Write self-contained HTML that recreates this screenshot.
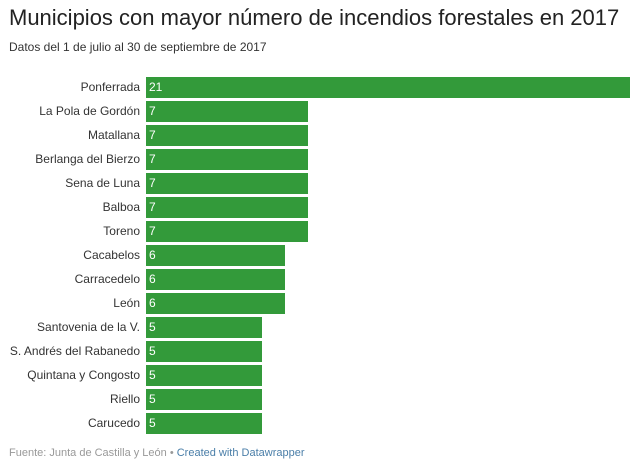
<!DOCTYPE html>
<html><head><meta charset="utf-8"><style>
body{margin:0;width:630px;height:466px;background:#fff;font-family:"Liberation Sans",Arial,sans-serif;color:#333;position:relative;overflow:hidden}
.t{position:absolute;left:9px;top:5px;font-size:22px;color:#222;white-space:nowrap}
.s{position:absolute;left:9px;top:40px;font-size:12px;color:#333;white-space:nowrap}
.r{position:absolute;left:0;height:21px}
.l{position:absolute;right:490px;width:200px;text-align:right;font-size:12px;line-height:21px;white-space:nowrap}
.b{position:absolute;left:146px;height:21px;background:#339a3a;color:#fff;font-size:12px;line-height:21px;padding-left:3px;box-sizing:border-box}
.f{position:absolute;left:9px;top:447px;font-size:11px;color:#999;white-space:nowrap}
.f a{color:#4a7ea8;text-decoration:none}
</style></head><body>
<div class="t">Municipios con mayor número de incendios forestales en 2017</div>
<div class="s">Datos del 1 de julio al 30 de septiembre de 2017</div>
<div id="c"></div>
<div class="f">Fuente: Junta de Castilla y León • <a>Created with Datawrapper</a></div>
<script>
var d=[["Ponferrada",21],["La Pola de Gordón",7],["Matallana",7],["Berlanga del Bierzo",7],["Sena de Luna",7],["Balboa",7],["Toreno",7],["Cacabelos",6],["Carracedelo",6],["León",6],["Santovenia de la V.",5],["S. Andrés del Rabanedo",5],["Quintana y Congosto",5],["Riello",5],["Carucedo",5]];
var h="";d.forEach(function(e,i){var y=77+i*24;var w=Math.round(e[1]*484/21)+1;
h+='<div class="r" style="top:'+y+'px;width:630px"><div class="l" style="left:-60px">'+e[0]+'</div><div class="b" style="width:'+w+'px">'+e[1]+'</div></div>';});
document.getElementById("c").innerHTML=h;
</script>
</body></html>
